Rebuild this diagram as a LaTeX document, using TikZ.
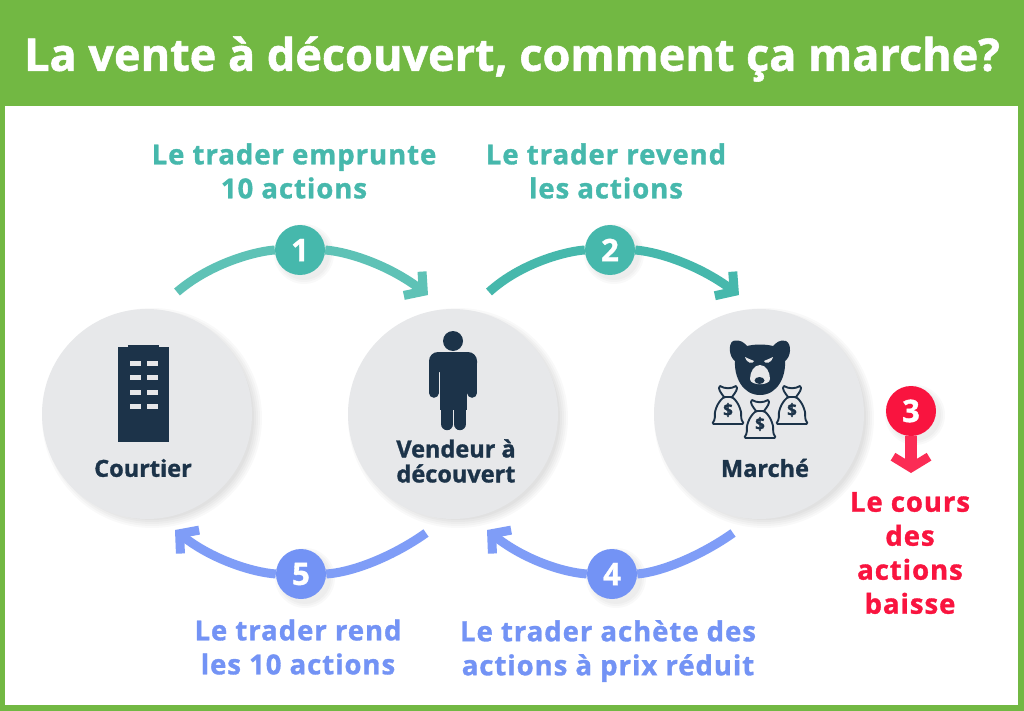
\documentclass[tikz,border=0pt]{standalone}
\usepackage{fontspec}
\setmainfont[BoldFeatures={FakeBold=1.2}]{Open Sans}
\newfontfamily\spacedfont[BoldFeatures={FakeBold=1.2,LetterSpace=3.5}]{Open Sans}
\usetikzlibrary{arrows.meta}

\definecolor{leaf}{HTML}{72B843}
\definecolor{teal}{HTML}{46B8AC}
\definecolor{lightteal}{HTML}{5EC2B6}
\definecolor{perso}{HTML}{7393F5}
\definecolor{lightperso}{HTML}{7F9DF7}
\definecolor{alert}{HTML}{F9143F}
\definecolor{lightalert}{HTML}{FB2C55}
\definecolor{ink}{HTML}{1C3349}
\definecolor{disc}{HTML}{E7E8EA}

\tikzset{
    actor/.style={circle, fill=disc, minimum size=210pt, inner sep=0pt},
    badge/.style={circle, fill=#1, minimum size=50pt, inner sep=0pt, text=white,
        font=\fontsize{31}{31}\selectfont\bfseries},
    caption/.style={align=center, text=#1, font=\spacedfont\fontsize{27.5}{34}\selectfont\bfseries},
    actorname/.style={align=center, text=ink, font=\fontsize{23.5}{25}\selectfont\bfseries},
    flow/.style={line width=9pt, color=#1},
    flowtip/.style={flow=#1, -{Straight Barb[length=13pt, width=30pt, line width=9pt]}},
    bag/.pic={
        \draw[ink, line width=1.9pt, line join=round, fill=disc]
            (-4,-11) .. controls (-7,-15) and (-11,-20) .. (-8,-22) .. controls (-3,-19) and (3,-19) .. (8,-22)
            .. controls (11,-20) and (7,-15) .. (4,-11) -- cycle;
        \draw[ink, line width=1.9pt, line join=round, fill=disc, rounded corners=1.5pt]
            (-4,-11) .. controls (-11,-5) and (-14,4) .. (-13,11) -- (-16,16) -- (16,16) -- (13,11)
            .. controls (14,4) and (11,-5) .. (4,-11) -- cycle;
        \node[text=ink, font=\fontsize{17}{17}\selectfont\bfseries] at (0,2) {\$};
    }
}

\begin{document}
\begin{tikzpicture}[x=1pt, y=-1pt]
    \useasboundingbox (0,0) rectangle (1024,711);

    % frame and title
    \fill[leaf] (0,0) rectangle (1024,711);
    \fill[white] (5,106) rectangle (1018,705);
    \node[text=white, font=\fontsize{45}{45}\selectfont\bfseries] (title) at (512,59) {La vente à découvert, comment ça marche?};

    % soft shadows
    \foreach \cx in {147,453,759}
        \foreach \r in {110,108,106,104,102}
            \fill[black, opacity=0.025] (\cx+5,418) circle (\r pt);
    \foreach \cx/\cy in {300/250,610/250,911/411,301/574,612/574}
        \foreach \r in {30,28,26}
            \fill[black, opacity=0.025] (\cx+4,\cy+4) circle (\r pt);

    % actors
    \node[actor] (courtier) at (147,414) {};
    \node[actor] (vendeur) at (453,414) {};
    \node[actor] (marche) at (759,414) {};
    \node[actorname] (courtierlab) at (143,468) {Courtier};
    \node[actorname] (vendeurlab) at (456,461) {Vendeur à\\découvert};
    \node[actorname] (marchelab) at (765,468) {Marché};

    % building
    \fill[ink] (118,347) rectangle (169,442);
    \fill[ink] (128,345) rectangle (159,350);
    \foreach \wy in {361,375,390,404}
        \foreach \wx in {130,147}
            \fill[disc] (\wx,\wy) rectangle (\wx+11,\wy+5);

    % person
    \fill[ink] (453,341) circle (10pt);
    \fill[ink, rounded corners=9pt] (429,372) -- (429,352) -- (477,352) -- (477,372) -- cycle;
    \fill[ink] (439.5,362) rectangle (466.5,410);
    \foreach \ax in {433.8,472.2}
        \draw[ink, line width=9.6pt, line cap=round] (\ax,362) -- (\ax,393);
    \foreach \lx in {447.2,459.8}
        \draw[ink, line width=12.4pt, line cap=round] (\lx,395) -- (\lx,424);

    % bear
    \fill[ink] (733,341) .. controls (741,339) and (744,343) .. (747,346) .. controls (755,344) and (765,344) .. (773,346)
        .. controls (776,343) and (780,339) .. (786,341) .. controls (792,344) and (791,357) .. (785,361)
        .. controls (786,376) and (778,395) .. (760,395) .. controls (742,395) and (734,376) .. (735,361)
        .. controls (729,357) and (728,344) .. (733,341) -- cycle;
    \fill[disc] (745,357) .. controls (749,359) and (752,360) .. (754,361) .. controls (753,364) and (747,364) .. (745,357) -- cycle;
    \fill[disc] (773,357) .. controls (769,359) and (766,360) .. (764,361) .. controls (765,364) and (771,364) .. (773,357) -- cycle;
    \fill[disc] (760,365) .. controls (766,365) and (770,372) .. (770,379) .. controls (770,386) and (750,386) .. (750,379) .. controls (750,372) and (754,365) .. (760,365) -- cycle;
    \fill[ink] (759.5,380.5) ellipse (5pt and 3.5pt);

    % bags
    \pic at (728,408) {bag};
    \pic at (792,408) {bag};
    \pic at (760,422) {bag};

    % flows on top
    \coordinate (startone) at (177,292);
    \coordinate (endone) at (428,295);
    \coordinate (starttwo) at (489,292);
    \coordinate (endtwo) at (739,295);
    \coordinate (startfive) at (426,533);
    \coordinate (endfive) at (175,530);
    \coordinate (startfour) at (733,533);
    \coordinate (endfour) at (487,530);
    \coordinate (endthree) at (911,473);

    \node[badge=teal] (one) at (300,250) {1};
    \node[badge=teal] (two) at (610,250) {2};
    \node[badge=alert] (three) at (911,411) {3};
    \node[badge=perso] (four) at (612,574) {4};
    \node[badge=perso] (five) at (301,574) {5};

    \draw[flow=lightteal] (startone) .. controls (212,262) and (258,251) .. (one.west);
    \draw[flowtip=lightteal] (one.east) .. controls (350,252) and (390,266) .. (endone);
    \draw[flow=teal] (starttwo) .. controls (522,262) and (568,251) .. (two.west);
    \draw[flowtip=teal] (two.east) .. controls (660,252) and (700,266) .. (endtwo);
    \draw[flow=lightperso] (startfive) .. controls (395,555) and (355,572) .. (five.east);
    \draw[flowtip=lightperso] (five.west) .. controls (250,572) and (210,558) .. (endfive);
    \draw[flow=lightperso] (startfour) .. controls (702,555) and (662,572) .. (four.east);
    \draw[flowtip=lightperso] (four.west) .. controls (560,572) and (522,558) .. (endfour);
    \draw[line width=12pt, lightalert, -{Straight Barb[length=11pt, width=36pt, line width=9pt]}] (three.south) -- (endthree);

    % captions
    \node[caption=teal] (capone) at (294,171) {Le trader emprunte\\10 actions};
    \node[caption=teal] (captwo) at (606,171) {Le trader revend\\les actions};
    \node[caption=alert] (capthree) at (910,553) {Le cours\\des\\actions\\baisse};
    \node[caption=perso] (capfour) at (608,651) {Le trader achète des\\actions à prix réduit};
    \node[caption=perso] (capfive) at (298,647) {Le trader rend\\les 10 actions};
\end{tikzpicture}
\end{document}
